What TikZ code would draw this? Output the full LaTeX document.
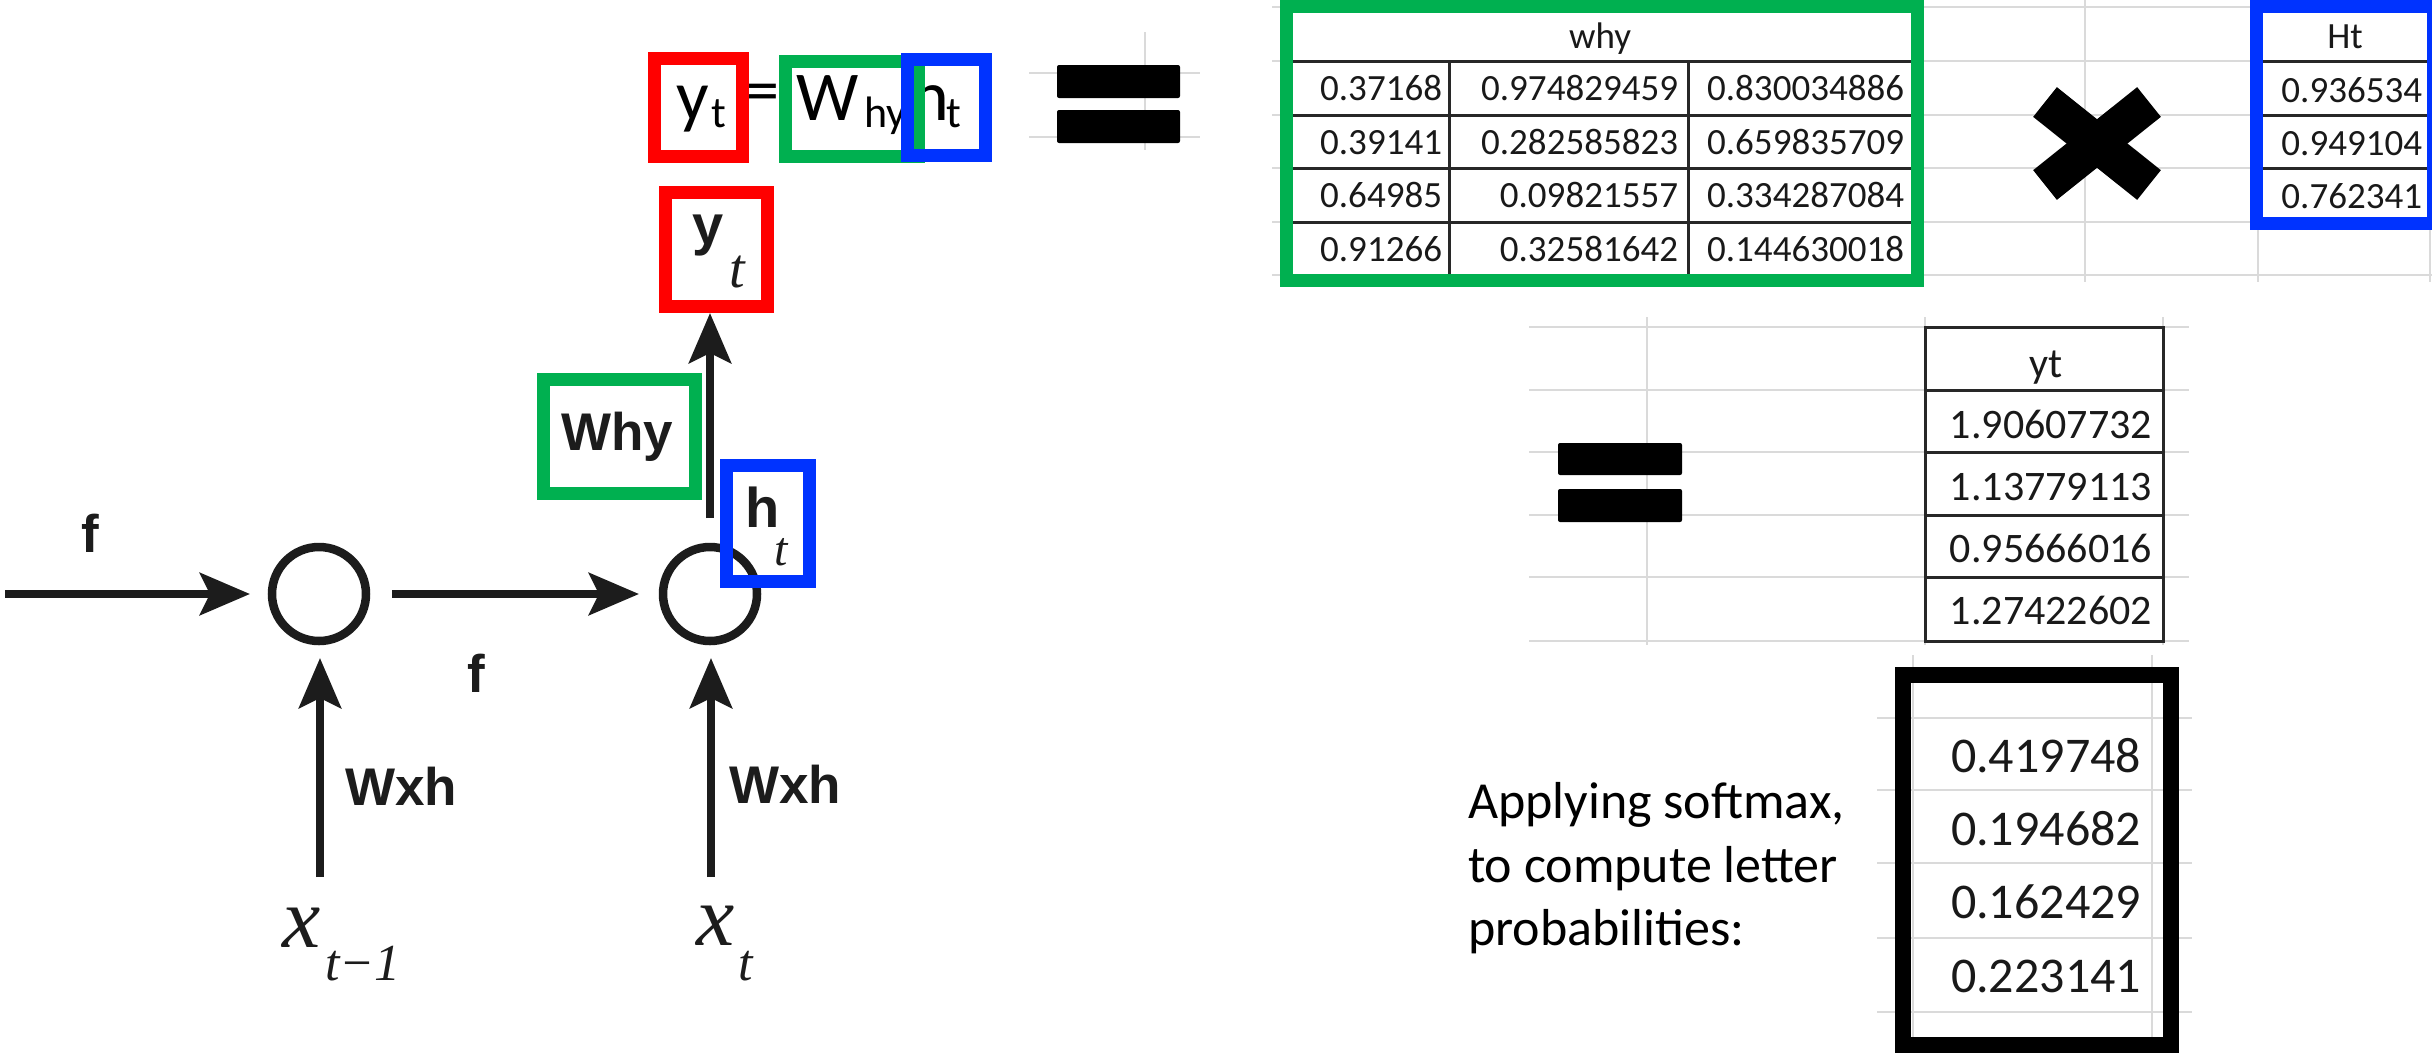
\documentclass[tikz,border=0pt]{standalone}
\usepackage{fontspec}
\setmainfont{Carlito}
\newfontfamily\arialf{Liberation Sans}
\newfontfamily\timesf{Liberation Serif}
\usetikzlibrary{arrows.meta}
\definecolor{xred}{RGB}{255,0,0}
\definecolor{xgreen}{RGB}{0,176,80}
\definecolor{xblue}{RGB}{0,51,255}
\definecolor{gridc}{RGB}{218,218,218}
\definecolor{cellc}{RGB}{40,40,40}
\definecolor{numc}{RGB}{25,25,25}
\definecolor{ink}{RGB}{28,28,28}
\newcommand\myfs[1]{\fontsize{#1}{#1}\selectfont}
\tikzset{
  txt/.style={inner sep=0pt, outer sep=0pt},
  hlbox/.style={draw=#1, line width=13pt, rectangle, inner sep=0pt, outer sep=0pt},
  cell/.style={draw=ink, circle, line width=8.5pt, minimum size=94pt, inner sep=0pt, outer sep=0pt},
  arr/.style={draw=ink, line width=8.5pt, -{Stealth[length=50pt 0 1, width=42pt 0 1, inset=10pt 0]}},
  gridln/.style={draw=gridc, line width=2.5pt},
  cellln/.style={draw=cellc, line width=3pt},
  lab/.style={txt, text=ink, font=\arialf\bfseries\myfs{53}},
  ital/.style={txt, text=ink, font=\timesf\itshape\myfs{#1}},
  eq/.style={txt, text=black, font=\myfs{#1}},
  num/.style={txt, text=numc, font=\myfs{#1}, anchor=base east},
}
\begin{document}
\begin{tikzpicture}[x=1pt,y=-1pt]
\useasboundingbox (0,0) rectangle (2432,1053);
\fill[white] (0,0) rectangle (2432,1053);

% ---------------- spreadsheet grids ----------------
\foreach \yy in {7,61,115,168,222,275} \draw[gridln] (1272,\yy) -- (2432,\yy);
\foreach \xx in {2085,2258,2430} \draw[gridln] (\xx,0) -- (\xx,282);
\draw[gridln] (1029,73) -- (1200,73);
\draw[gridln] (1029,137) -- (1200,137);
\draw[gridln] (1145,32) -- (1145,150);
\foreach \yy in {327,390,452,515,577,641} \draw[gridln] (1529,\yy) -- (2189,\yy);
\foreach \xx in {1647,1925,2163} \draw[gridln] (\xx,317) -- (\xx,645);
\foreach \yy in {718,790,863,938,1012} \draw[gridln] (1877,\yy) -- (2192,\yy);
\foreach \xx in {1913,2152} \draw[gridln] (\xx,655) -- (\xx,1040);

% ---------------- green table (why) ----------------
\fill[white] (1293,13) rectangle (1911,274);
\foreach \yy in {61,115,168,222} \draw[cellln] (1293,\yy) -- (1911,\yy);
\foreach \xx in {1449,1688} \draw[cellln] (\xx,61) -- (\xx,274);
\node[txt, text=numc, font=\myfs{37}, anchor=base] (whyh) at (1600,48) {why};
\node[num=37] (w11) at (1442,100) {0.37168};
\node[num=37] (w12) at (1678,100) {0.974829459};
\node[num=37] (w13) at (1904,100) {0.830034886};
\node[num=37] (w21) at (1442,154) {0.39141};
\node[num=37] (w22) at (1678,154) {0.282585823};
\node[num=37] (w23) at (1904,154) {0.659835709};
\node[num=37] (w31) at (1442,207) {0.64985};
\node[num=37] (w32) at (1678,207) {0.09821557};
\node[num=37] (w33) at (1904,207) {0.334287084};
\node[num=37] (w41) at (1442,261) {0.91266};
\node[num=37] (w42) at (1678,261) {0.32581642};
\node[num=37] (w43) at (1904,261) {0.144630018};
\node[hlbox=xgreen, minimum width=631pt, minimum height=274pt] (whytab) at (1602,143.5) {};

% ---------------- blue table (Ht) ----------------
\fill[white] (2263,13) rectangle (2427,217);
\foreach \yy in {61,115,168} \draw[cellln] (2263,\yy) -- (2427,\yy);
\node[txt, text=numc, font=\myfs{37}, anchor=base] (hth) at (2345,48) {Ht};
\node[num=37] (h1) at (2422,102) {0.936534};
\node[num=37] (h2) at (2422,155) {0.949104};
\node[num=37] (h3) at (2422,208) {0.762341};
\node[hlbox=xblue, minimum width=177pt, minimum height=217pt] (httab) at (2345,115) {};

% multiplication sign
\draw[line width=38pt, black] (2045,102) -- (2149,185);
\draw[line width=38pt, black] (2149,102) -- (2045,185);

% equals signs
\fill[black, rounded corners=2pt] (1057,65) rectangle (1180,98);
\fill[black, rounded corners=2pt] (1057,110) rectangle (1180,143);
\fill[black, rounded corners=2pt] (1558,443) rectangle (1682,475);
\fill[black, rounded corners=2pt] (1558,489) rectangle (1682,522);

% ---------------- yt table ----------------
\draw[cellln] (1925,327) rectangle (2163,641);
\foreach \yy in {390,452,515,577} \draw[cellln] (1925,\yy) -- (2163,\yy);
\node[txt, text=numc, font=\myfs{42}, anchor=base] (yth) at (2046,377) {yt};
\node[num=42] (y1) at (2152,438) {1.90607732};
\node[num=42] (y2) at (2152,500) {1.13779113};
\node[num=42] (y3) at (2152,562) {0.95666016};
\node[num=42] (y4) at (2152,624) {1.27422602};

% ---------------- softmax ----------------
\node[num=50] (p1) at (2141,772) {0.419748};
\node[num=50] (p2) at (2141,845) {0.194682};
\node[num=50] (p3) at (2141,918) {0.162429};
\node[num=50] (p4) at (2141,992) {0.223141};
\node[draw=black, line width=16pt, rectangle, inner sep=0pt, outer sep=0pt, minimum width=268pt, minimum height=370pt] (smbox) at (2037,860) {};
\node[txt, text=black, font=\myfs{52}, anchor=base west] (s1) at (1468,818) {Applying softmax,};
\node[txt, text=black, font=\myfs{52}, anchor=base west] (s2) at (1468,882) {to compute letter};
\node[txt, text=black, font=\myfs{52}, anchor=base west] (s3) at (1468,945) {probabilities:};

% ---------------- top equation ----------------
\node[eq=72, anchor=base west] (e1) at (676,120) {y};
\node[eq=44, anchor=base west] (e2) at (711,127) {t};
\node[eq=66] (e3) at (763,98) {=};
\node[eq=70, anchor=base west] (e4) at (796,120) {W};
\node[eq=44, anchor=base west] (e5) at (864,127) {hy};
\node[eq=72, anchor=base west] (e6) at (911,120) {h};
\node[eq=44, anchor=base west] (e7) at (946,127) {t};
\node[hlbox=xred, minimum width=88pt, minimum height=98pt] (eqy) at (698.5,107.5) {};
\node[hlbox=xgreen, minimum width=133pt, minimum height=95pt] (eqw) at (852,109) {};
\node[hlbox=xblue, minimum width=78pt, minimum height=96pt] (eqh) at (946.5,107.5) {};

% ---------------- RNN diagram ----------------
\node[cell] (c1) at (319,594) {};
\node[cell] (c2) at (710,594) {};
\coordinate (in0) at (5,594);
\coordinate (x1in) at (320,877);
\coordinate (x2in) at (711,877);
\draw[arr, shorten >=22pt] (in0) -- (c1.west);
\draw[arr, shorten <=26pt, shorten >=24pt] (c1.east) -- (c2.west);
\draw[arr, shorten >=17pt] (x1in) -- (x1in |- c1.south);
\draw[arr, shorten >=17pt] (x2in) -- (x2in |- c2.south);

\node[lab, anchor=base] (f1) at (90,552) {f};
\node[lab, anchor=base] (f2) at (476,692) {f};
\node[lab, anchor=base west] (wxh1) at (345,805) {Wxh};
\node[lab, anchor=base west] (wxh2) at (729,803) {Wxh};
\node[lab, anchor=base west] (whyl) at (561,450) {Why};

\node[txt, text=ink, font=\arialf\bfseries\myfs{56}, anchor=base west] (ylab) at (692,244) {y};
\node[ital=56, anchor=base west] (ysub) at (729,287) {t};
\node[txt, text=ink, font=\arialf\bfseries\myfs{56}, anchor=base west] (hlab) at (745,527) {h};
\node[ital=48, anchor=base west] (hsub) at (774,565) {t};

\node[ital=86, anchor=base west] (xa) at (282,947) {x};
\node[ital=52, anchor=base west] (xasub) at (325,980) {t−1};
\node[ital=86, anchor=base west] (xb) at (696,945) {x};
\node[ital=52, anchor=base west] (xbsub) at (738,980) {t};

\node[hlbox=xred, minimum width=102pt, minimum height=114pt] (ytbox) at (716.5,249.5) {};
\node[hlbox=xgreen, minimum width=152pt, minimum height=114pt] (whybox) at (619.5,436.5) {};
\node[hlbox=xblue, minimum width=83pt, minimum height=116pt] (htbox) at (768,523.5) {};

\draw[arr, shorten <=29pt, shorten >=6.5pt] (c2.north) -- (c2.north |- ytbox.south);
\end{tikzpicture}
\end{document}
